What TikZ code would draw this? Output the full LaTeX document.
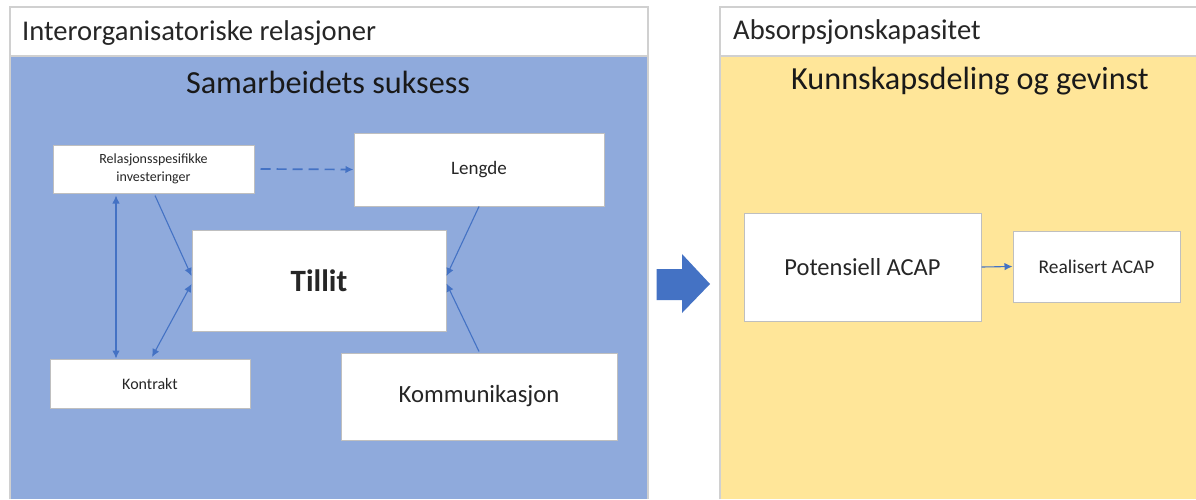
\documentclass[tikz,border=0pt]{standalone}
\usepackage{fontspec}
\setmainfont{Carlito}
\usetikzlibrary{arrows.meta}

\definecolor{panelblue}{HTML}{8FAADC}
\definecolor{panelyellow}{HTML}{FFE699}
\definecolor{linkblue}{HTML}{4472C4}
\definecolor{boxgray}{HTML}{BFBFBF}
\definecolor{framegray}{HTML}{D0D0D0}

\begin{document}
\begin{tikzpicture}[x=1pt, y=-1pt,
  frame/.style={draw=framegray, line width=1.6pt},
  box/.style={draw=boxgray, fill=white, line width=1pt, align=center,
    inner sep=0pt, text=black!85},
  link/.style={draw=linkblue, line width=1.1pt,
    -{Latex[length=8pt,width=7.5pt]}},
  both/.style={link, {Latex[length=8pt,width=7.5pt]}-{Latex[length=8pt,width=7.5pt]}},
  fsz/.style={font=\fontsize{#1}{#1}\selectfont}]
  \useasboundingbox (0,0) rectangle (1196,499);

  \fill[white] (0,0) rectangle (1196,499);
  \fill[panelblue] (10,56) rectangle (648,499);
  \draw[frame] (10,499) -- (10,7) -- (648,7) -- (648,499);
  \draw[frame] (10,56) -- (648,56);
  \fill[panelyellow] (720,56) rectangle (1196,499);
  \draw[frame] (720,499) -- (720,7) -- (1196,7);
  \draw[frame] (720,56) -- (1196,56);

  \node[anchor=base west, inner sep=0pt, fsz=28.6, text=black!85] (hdrleft)
    at (22,40) {Interorganisatoriske relasjoner};
  \node[anchor=base west, inner sep=0pt, fsz=28.6, text=black!85] (hdrright)
    at (733,39) {Absorpsjonskapasitet};
  \node[anchor=base, inner sep=0pt, fsz=32.2, text=black!90] (titleleft)
    at (328,93) {Samarbeidets suksess};
  \node[anchor=base, inner sep=0pt, fsz=32.2, text=black!90] (titleright)
    at (970,89) {Kunnskapsdeling og gevinst};

  \node[box, minimum width=201pt, minimum height=48pt,
    font=\fontsize{14}{18}\selectfont] (rel) at (153.5,169)
    {Relasjonsspesifikke\\investeringer};
  \node[box, minimum width=250pt, minimum height=73pt, fsz=19] (lengde)
    at (479,169.5) {Lengde};
  \node[box, minimum width=254pt, minimum height=101pt,
    font=\fontsize{31}{31}\selectfont\bfseries] (tillit) at (319,280.5) {Tillit};
  \node[box, minimum width=200pt, minimum height=49pt, fsz=16] (kontrakt)
    at (150,383.5) {Kontrakt};
  \node[box, minimum width=276pt, minimum height=87pt, fsz=24.7] (komm)
    at (479,396.5) {Kommunikasjon};
  \node[box, minimum width=237pt, minimum height=108pt, fsz=24.5] (pot)
    at (862.5,267) {Potensiell ACAP};
  \node[box, minimum width=167pt, minimum height=71pt, fsz=19.4] (real)
    at (1096.5,266.5) {Realisert ACAP};

  \draw[link, line width=1.7pt, dash pattern=on 10pt off 6pt]
    ([xshift=6pt]rel.east) -- (lengde.west);
  \draw[both] ([xshift=-37.5pt,yshift=-2pt]rel.south)
    -- ([xshift=-37.5pt]rel.south |- kontrakt.north);
  \draw[link] ([xshift=1.5pt,yshift=-2pt]rel.south) -- ([yshift=4.5pt]tillit.west);
  \draw[both] ([xshift=2pt,yshift=1.5pt]kontrakt.north) -- ([yshift=-3.5pt]tillit.west);
  \draw[link] (lengde.south) -- ([yshift=4.5pt]tillit.east);
  \draw[link] ([yshift=1pt]komm.north) -- ([yshift=-3pt]tillit.east);
  \draw[link] (pot.east) -- (real.west);

  \fill[linkblue] (656.7,269) -- (682,269) -- (682,254) -- (710,284)
    -- (682,313) -- (682,300) -- (656.7,300) -- cycle;
\end{tikzpicture}
\end{document}
